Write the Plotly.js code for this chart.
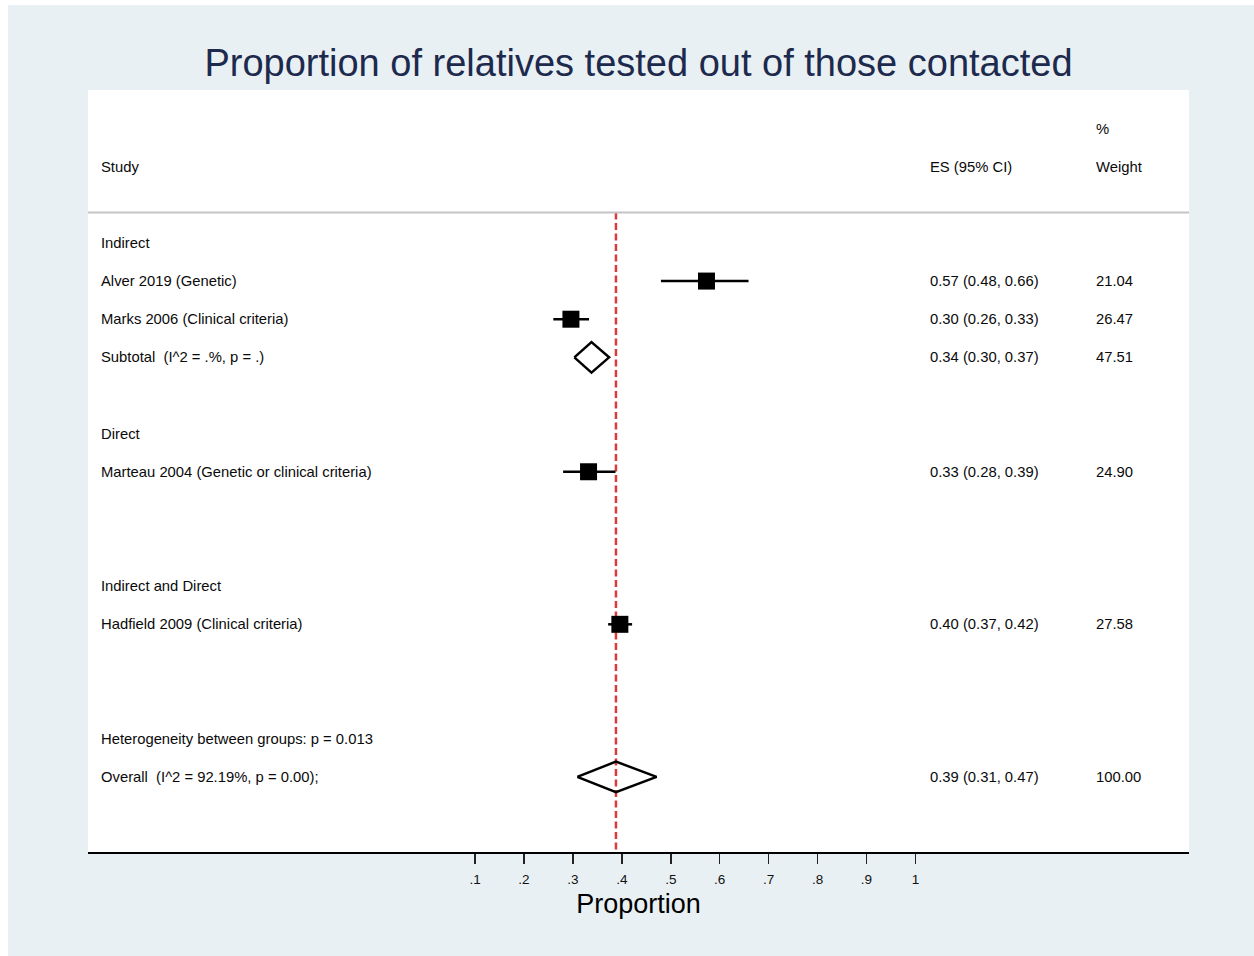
<!DOCTYPE html>
<html>
<head>
<meta charset="utf-8">
<script src="https://cdn.plot.ly/plotly-3.0.1.min.js"></script>
<style>
  html, body { margin: 0; padding: 0; background: #ffffff; }
  #chart { width: 1254px; height: 956px; }
</style>
</head>
<body>
<div id="chart"></div>
<script>
// ---- data ----
const studyNames = [
  "Alver 2019 (Genetic)",
  "Marks 2006 (Clinical criteria)",
  "Subtotal\u00a0 (I^2 = .%, p = .)",
  "Marteau 2004 (Genetic or clinical criteria)",
  "Hadfield 2009 (Clinical criteria)",
  "Overall\u00a0 (I^2 = 92.19%, p = 0.00);"
];
const studyRows = [2, 3, 4, 7, 11, 15];
const es      = [0.573, 0.296, 0.338, 0.332, 0.396, 0.388];
const lo      = [0.480, 0.260, 0.303, 0.280, 0.372, 0.309];
const hi      = [0.659, 0.333, 0.374, 0.387, 0.421, 0.471];
const weights = [21.04, 26.47, 47.51, 24.90, 27.58, 100.00];
const isPooled = [false, false, true, false, false, true];

const groupLabels = ["Indirect", "Direct", "Indirect and Direct", "Heterogeneity between groups: p = 0.013"];
const groupRows = [1, 6, 10, 14];

const tickVals = [0.1, 0.2, 0.3, 0.4, 0.5, 0.6, 0.7, 0.8, 0.9, 1];
const tickText = [".1", ".2", ".3", ".4", ".5", ".6", ".7", ".8", ".9", "1"];

const overallES = es[5];

// ---- layout constants ----
const W = 1254, H = 956;
const ML = 88, MR = 65, MT = 90, MB = 104;
const PW = W - ML - MR, PH = H - MT - MB;
const FONT = "Liberation Sans, Arial, Helvetica, sans-serif";
const rowTop = -3.01, rowBottom = 16.97;
const sepRow = 0.2;
const colStudy = 11 / PW, colES = 840 / PW, colW = 1006 / PW;
const txtSize = 14.8;

const traces = [];

// reference (overall) dashed line
traces.push({
  x: [overallES, overallES], y: [sepRow, rowBottom],
  mode: "lines", type: "scatter", hoverinfo: "skip",
  line: { color: "#dc3b3c", width: 2.5, dash: "7px,3.5px" }
});

// individual studies: squares with CI
const sx = [], sy = [], ep = [], em = [];
for (let i = 0; i < es.length; i++) {
  if (!isPooled[i]) {
    sx.push(es[i]); sy.push(studyRows[i]);
    ep.push(hi[i] - es[i]); em.push(es[i] - lo[i]);
  }
}
traces.push({
  x: sx, y: sy, type: "scatter", mode: "markers", hoverinfo: "skip",
  marker: { symbol: "square", size: 17, color: "#000000", line: { width: 0 } },
  error_x: { type: "data", symmetric: false, array: ep, arrayminus: em,
             width: 0, thickness: 2.5, color: "#000000" }
});

// pooled estimates: diamonds
const dh = 0.4;
for (let i = 0; i < es.length; i++) {
  if (isPooled[i]) {
    const r = studyRows[i];
    traces.push({
      x: [lo[i], es[i], hi[i], es[i], lo[i]],
      y: [r, r - dh, r, r + dh, r],
      type: "scatter", mode: "lines", hoverinfo: "skip",
      line: { color: "#000000", width: 2.5 }
    });
  }
}

// ---- text annotations ----
const ann = [];
function addText(x, row, text) {
  ann.push({ xref: "paper", yref: "y", x: x, y: row, text: text,
             showarrow: false, xanchor: "left", yanchor: "middle",
             font: { family: FONT, size: txtSize, color: "#0a0a0a" } });
}
addText(colStudy, -1, "Study");
addText(colES, -1, "ES (95% CI)");
addText(colW, -2, "%");
addText(colW, -1, "Weight");
for (let i = 0; i < groupLabels.length; i++) addText(colStudy, groupRows[i], groupLabels[i]);
for (let i = 0; i < studyNames.length; i++) {
  addText(colStudy, studyRows[i], studyNames[i]);
  addText(colES, studyRows[i], es[i].toFixed(2) + " (" + lo[i].toFixed(2) + ", " + hi[i].toFixed(2) + ")");
  addText(colW, studyRows[i], weights[i].toFixed(2));
}

const layout = {
  width: W, height: H,
  margin: { l: ML, r: MR, t: MT, b: MB, pad: 0 },
  paper_bgcolor: "#e9f0f3",
  plot_bgcolor: "#ffffff",
  showlegend: false,
  title: {
    text: "Proportion of relatives tested out of those contacted",
    x: 0.5, xref: "paper", xanchor: "center",
    y: 1 - 63 / H, yref: "container", yanchor: "middle",
    font: { family: FONT, size: 38, color: "#1d2a4d" }
  },
  xaxis: {
    range: [(0 - 338.1) / 489.3, (1101 - 338.1) / 489.3],
    autorange: false,
    showgrid: false, zeroline: false,
    showline: true, linecolor: "#000000", linewidth: 2,
    ticks: "outside", ticklen: 10, tickwidth: 1.5, tickcolor: "#222222",
    tickmode: "array", tickvals: tickVals, ticktext: tickText,
    ticklabelstandoff: 4,
    tickfont: { family: FONT, size: 13.5, color: "#111111" },
    title: { text: "Proportion", standoff: 8,
             font: { family: FONT, size: 27, color: "#000000" } },
    fixedrange: true
  },
  yaxis: {
    range: [rowBottom, rowTop], autorange: false,
    visible: false, showgrid: false, zeroline: false, fixedrange: true
  },
  shapes: [
    { type: "line", xref: "paper", yref: "y", x0: 0, x1: 1, y0: sepRow, y1: sepRow,
      line: { color: "#c4c4c4", width: 2 } },
    // white page edges
    { type: "rect", xref: "paper", yref: "paper", layer: "below",
      x0: -ML / PW, x1: (W - ML) / PW, y0: 1 + (MT - 5) / PH, y1: 1 + MT / PH,
      fillcolor: "#ffffff", line: { width: 0 } },
    { type: "rect", xref: "paper", yref: "paper", layer: "below",
      x0: -ML / PW, x1: -(ML - 8) / PW, y0: -MB / PH, y1: 1 + MT / PH,
      fillcolor: "#ffffff", line: { width: 0 } }
  ],
  annotations: ann
};

Plotly.newPlot("chart", traces, layout, { staticPlot: true, displayModeBar: false });
</script>
</body>
</html>
